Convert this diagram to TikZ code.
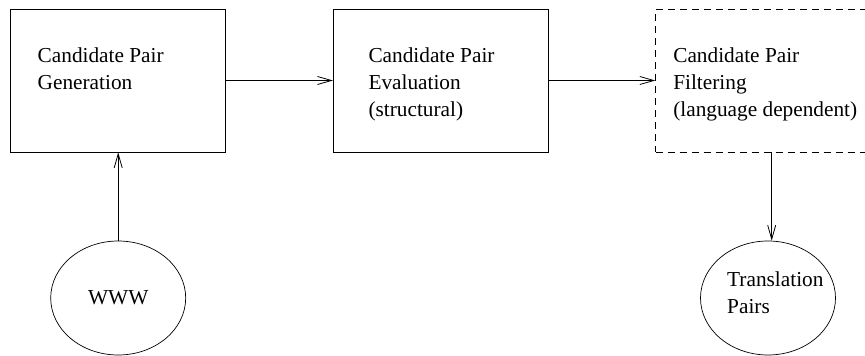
\documentclass[tikz,border=0pt]{standalone}
\usepackage{fontspec}
\setmainfont{Liberation Serif}
\usepackage{tikz}
\usetikzlibrary{shapes.geometric,arrows.meta,positioning,calc}

\begin{document}
\begin{tikzpicture}[
    x=1pt, y=1pt,
    stage/.style={
        rectangle,
        draw=black,
        line width=0.8pt,
        minimum width=215pt,
        minimum height=143pt,
        inner sep=0pt
    },
    store/.style={
        ellipse,
        draw=black,
        line width=0.7pt,
        minimum width=135pt,
        minimum height=114pt,
        inner sep=0pt,
        font=\fontsize{21.3}{27}\selectfont
    },
    caption/.style={
        anchor=base west,
        align=left,
        inner sep=0pt,
        font=\fontsize{21.3}{27}\selectfont
    },
    arrow/.style={-{Straight Barb[length=14pt,width=8pt]},line width=0.8pt,black}
]
    \useasboundingbox (0,0) rectangle (865,356);

    % Stages
    \node[stage] (gen) at (118.2,275.5) {};
    \node[stage] (eval) at (440.8,275.5) {};
    \node[stage, minimum width=232pt, dash pattern=on 7pt off 5pt] (filt) at (771.7,275.5) {};

    % Sources and results
    \node[store] (www) at (118.2,58) {WWW};
    \node[store] (pairs) at (768,58) {};

    % Arrows
    \draw[arrow] (gen) -- (eval);
    \draw[arrow] (eval) -- (filt);
    \draw[arrow] (www) -- (gen);
    \draw[arrow] (filt.south) -- (filt.south |- pairs.north);

    % Labels (anchored on the baseline of the last line)
    \node[caption] (gentext) at ($(gen.north west)+(27.2,-80.5)$) {Candidate Pair\\Generation};
    \node[caption] (evaltext) at ($(eval.north west)+(35.4,-107.5)$) {Candidate Pair\\Evaluation\\(structural)};
    \node[caption] (filttext) at ($(filt.north west)+(17.8,-107.5)$) {Candidate Pair\\Filtering\\(language dependent)};
    \node[caption] (pairstext) at (727,42) {Translation\\Pairs};
\end{tikzpicture}
\end{document}
